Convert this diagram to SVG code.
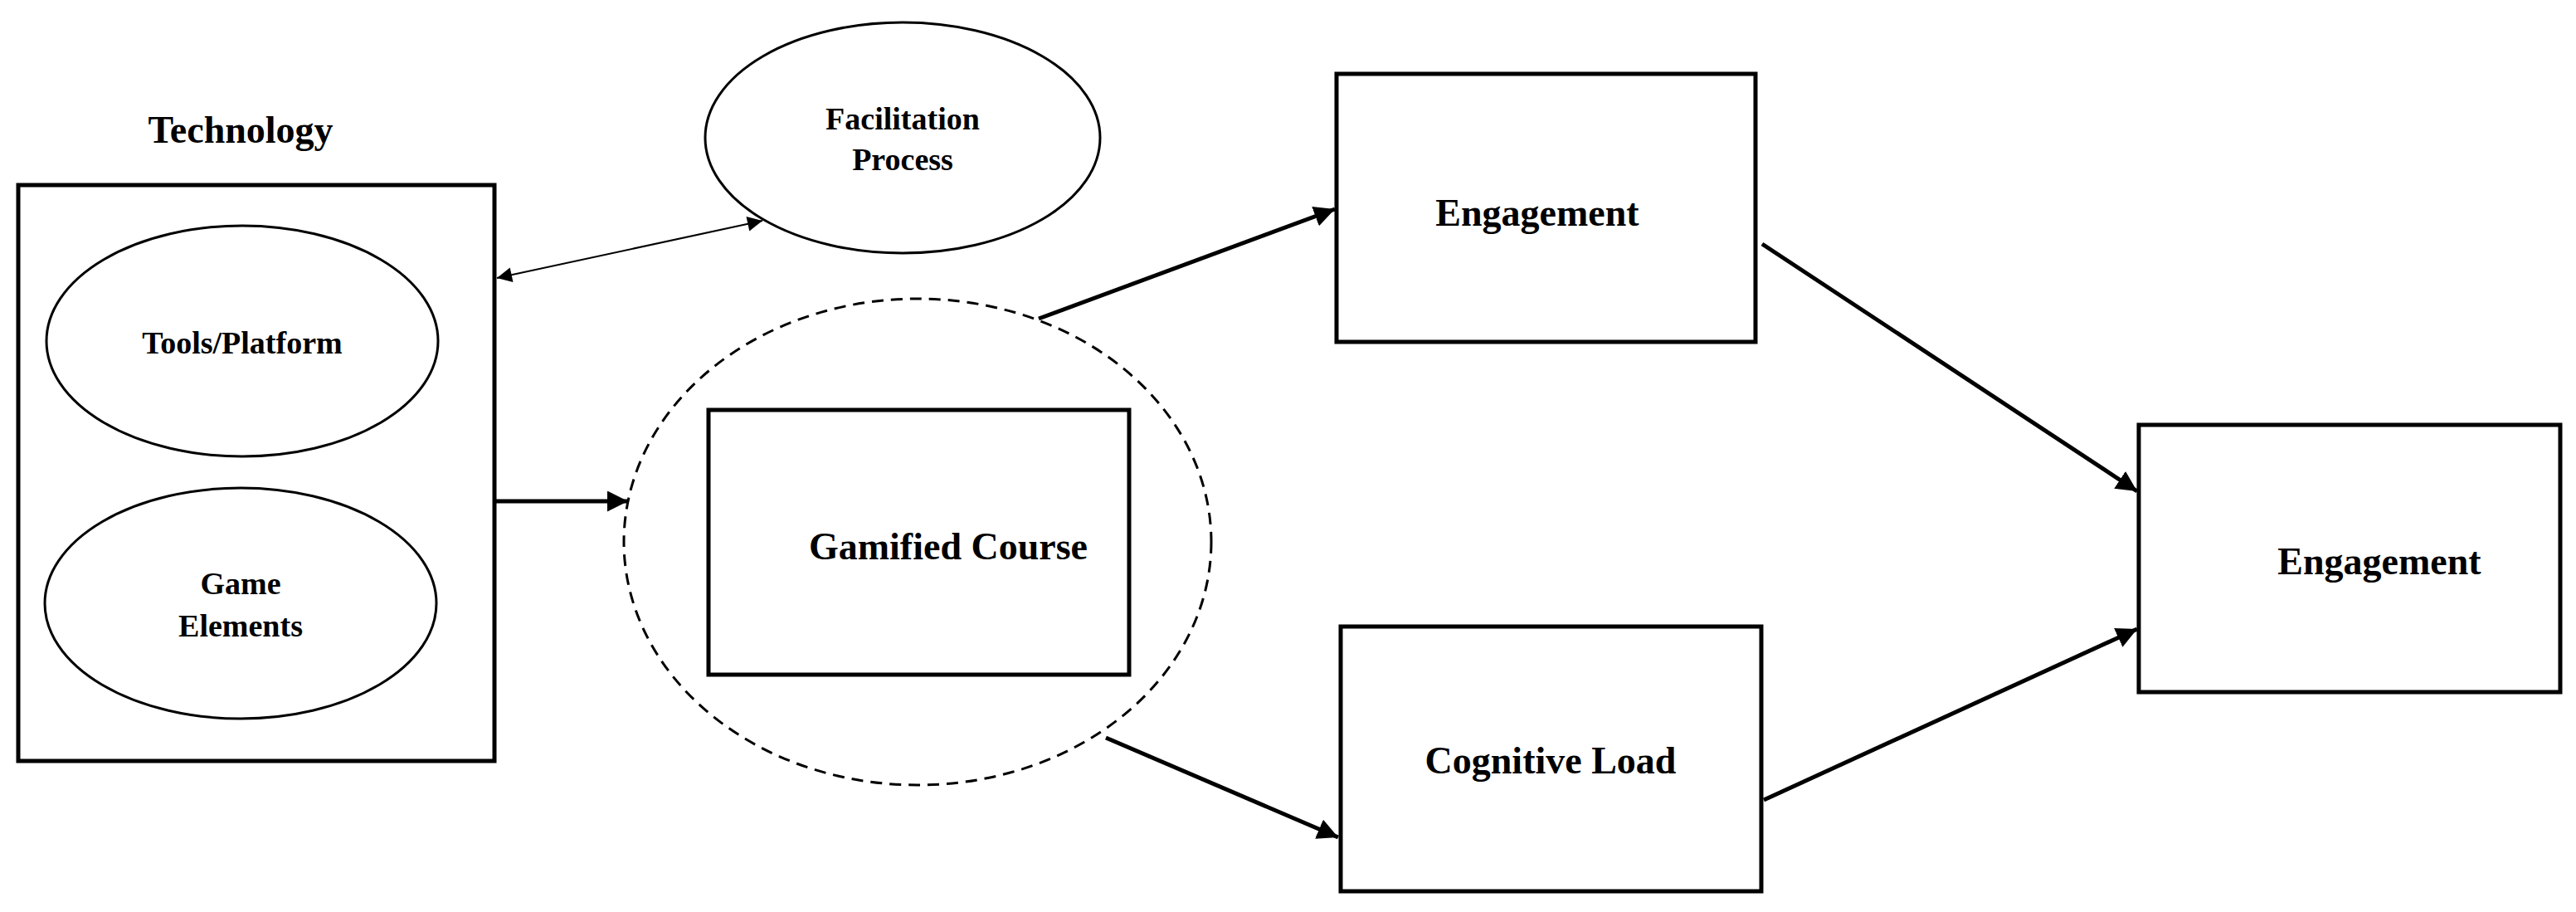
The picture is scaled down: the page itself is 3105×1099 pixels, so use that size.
<svg xmlns="http://www.w3.org/2000/svg" width="3105" height="1099" viewBox="0 0 3105 1099">
<style>
text{font-family:"Liberation Serif","Times New Roman",serif;font-weight:bold;fill:#000;text-anchor:middle}
.box{fill:#fff;stroke:#000;stroke-width:5}
.ell{fill:#fff;stroke:#000;stroke-width:3}
.con{stroke:#000;stroke-width:5;fill:none;marker-end:url(#ah)}
</style>
<defs>
<marker id="ah" viewBox="0 0 10 10" refX="10" refY="5" markerWidth="5" markerHeight="5" orient="auto" markerUnits="strokeWidth"><path d="M0,0L10,5L0,10z" fill="#000"/></marker>
<marker id="ah2" viewBox="0 0 10 10" refX="10" refY="5" markerWidth="11" markerHeight="9" orient="auto-start-reverse" markerUnits="strokeWidth"><path d="M0,0L10,5L0,10z" fill="#000"/></marker>
</defs>
<rect width="3105" height="1099" fill="#fff"/>
<g id="technology">
<text x="290" y="172" font-size="46">Technology</text>
<rect class="box" x="22" y="223" width="574" height="694"/>
</g>
<g id="tools"><ellipse class="ell" cx="292" cy="411" rx="236" ry="139"/><text x="292" y="426" font-size="38">Tools/Platform</text></g>
<g id="game"><ellipse class="ell" cx="290" cy="727" rx="236" ry="139"/><text x="290" y="716" font-size="38">Game</text><text x="290" y="767" font-size="38">Elements</text></g>
<g id="facilitation"><ellipse class="ell" cx="1088" cy="166" rx="238" ry="139"/><text x="1088" y="156" font-size="38">Facilitation</text><text x="1088" y="205" font-size="38">Process</text></g>
<g id="gamified">
<ellipse cx="1106" cy="653" rx="354" ry="293" fill="none" stroke="#000" stroke-width="3" stroke-dasharray="14,9"/>
<rect class="box" x="854" y="494" width="507" height="319"/>
<text x="1143" y="674" font-size="46">Gamified Course</text>
</g>
<g id="engagement1"><rect class="box" x="1611" y="89" width="505" height="323"/><text x="1853" y="272" font-size="46">Engagement</text></g>
<g id="cognitive"><rect class="box" x="1616" y="755" width="507" height="319"/><text x="1869" y="932" font-size="46">Cognitive Load</text></g>
<g id="engagement2"><rect class="box" x="2578" y="512" width="508" height="322"/><text x="2868" y="692" font-size="46">Engagement</text></g>
<g id="connectors">
<line x1="599" y1="335" x2="919" y2="266" stroke="#000" stroke-width="2" marker-start="url(#ah2)" marker-end="url(#ah2)"/>
<line class="con" x1="596" y1="604" x2="757" y2="604"/>
<line class="con" x1="1252" y1="384" x2="1609" y2="252"/>
<line class="con" x1="1333" y1="889" x2="1613" y2="1009"/>
<line class="con" x1="2124" y1="294" x2="2576" y2="592"/>
<line class="con" x1="2126" y1="964" x2="2576" y2="758"/>
</g>
</svg>
